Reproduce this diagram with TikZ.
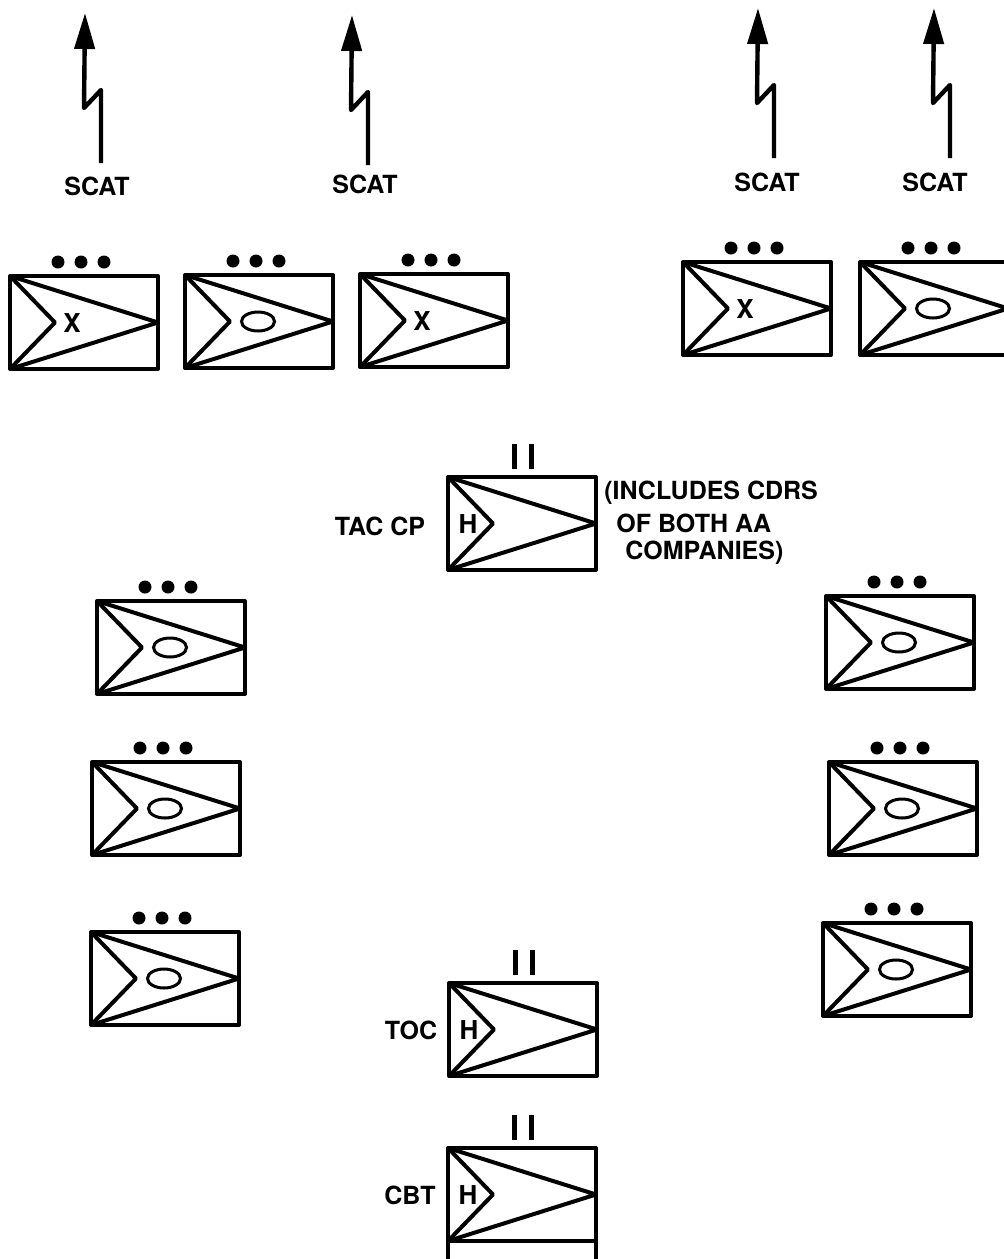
\documentclass[tikz,border=0pt]{standalone}
\usepackage{fontspec}
\setmainfont{TeX Gyre Heros}
\usetikzlibrary{arrows.meta}

\tikzset{
    symline/.style={line width=2pt, line join=round},
    scatline/.style={line width=2.2pt, line join=round, -{Triangle[length=18pt,width=10pt]}},
    lbl/.style={font=\bfseries\fontsize{12.5}{14}\selectfont, inner sep=0pt},
    marktext/.style={font=\bfseries\fontsize{13}{15}\selectfont, inner sep=0pt},
    aaframe/.pic={
        \draw[symline] (0,0) rectangle (148,93);
        \draw[symline] (0,0) -- (148,46.5) -- (0,93);
        \draw[symline] (0,0) -- (45,46.5) -- (0,93);
    },
    aadots/.pic={
        \foreach \dx in {48,71,94}
            \fill (\dx,-14) circle (6.5);
    },
    aaoval/.pic={
        \pic {aaframe}; \pic {aadots};
        \draw[line width=1.5pt] (73,46.5) ellipse [x radius=16.5, y radius=9.5];
    },
    aacross/.pic={
        \pic {aaframe}; \pic {aadots};
        \node[marktext] (-mark) at (62,47) {X};
    },
    hqunit/.pic={
        \pic {aaframe};
        \draw[line width=2.5pt] (66,-8) -- (66,-33) (83,-8) -- (83,-33);
        \node[marktext] (-mark) at (20,47) {H};
    },
    scatlink/.pic={
        \draw[scatline] (0,0) -- (0,-73) -- (-17,-55) -- (-16,-150);
    }
}

\begin{document}
\begin{tikzpicture}[x=0.5pt, y=-0.5pt]
    \useasboundingbox (0,0) rectangle (1003,1259);

    % scat links
    \pic at (101,163) {scatlink};
    \pic at (368,165) {scatlink};
    \pic at (774,158) {scatlink};
    \pic at (950,158) {scatlink};
    \node[lbl] (scat1) at (97,186) {SCAT};
    \node[lbl] (scat2) at (365,184) {SCAT};
    \node[lbl] (scat3) at (767,182) {SCAT};
    \node[lbl] (scat4) at (935,182) {SCAT};

    % top row
    \pic (t1) at (10,276) {aacross};
    \pic (t2) at (185,275) {aaoval};
    \pic (t3) at (360,274) {aacross};
    \pic (t4) at (683,262) {aacross};
    \pic (t5) at (860,262) {aaoval};

    % tac cp
    \pic (tac) at (448,477) {hqunit};
    \node[lbl] (taclbl) at (380,526) {TAC CP};
    \node[lbl, anchor=west] (note1) at (604,493) {(INCLUDES CDRS};
    \node[lbl, anchor=west] (note2) at (616,523) {OF BOTH AA};
    \node[lbl, anchor=west] (note3) at (625,553) {COMPANIES)};

    % left and right columns
    \pic (l1) at (97,601) {aaoval};
    \pic (l2) at (92,762) {aaoval};
    \pic (l3) at (91,932) {aaoval};
    \pic (r1) at (826,596) {aaoval};
    \pic (r2) at (829,762) {aaoval};
    \pic (r3) at (823,923) {aaoval};

    % toc and cbt
    \pic (toc) at (449,983) {hqunit};
    \node[lbl] (toclbl) at (411,1030) {TOC};
    \pic (cbt) at (448,1148) {hqunit};
    \node[lbl] (cbtlbl) at (410,1195) {CBT};
    \draw[symline] (448,1241) -- (448,1270) (596,1241) -- (596,1270);

\end{tikzpicture}
\end{document}
